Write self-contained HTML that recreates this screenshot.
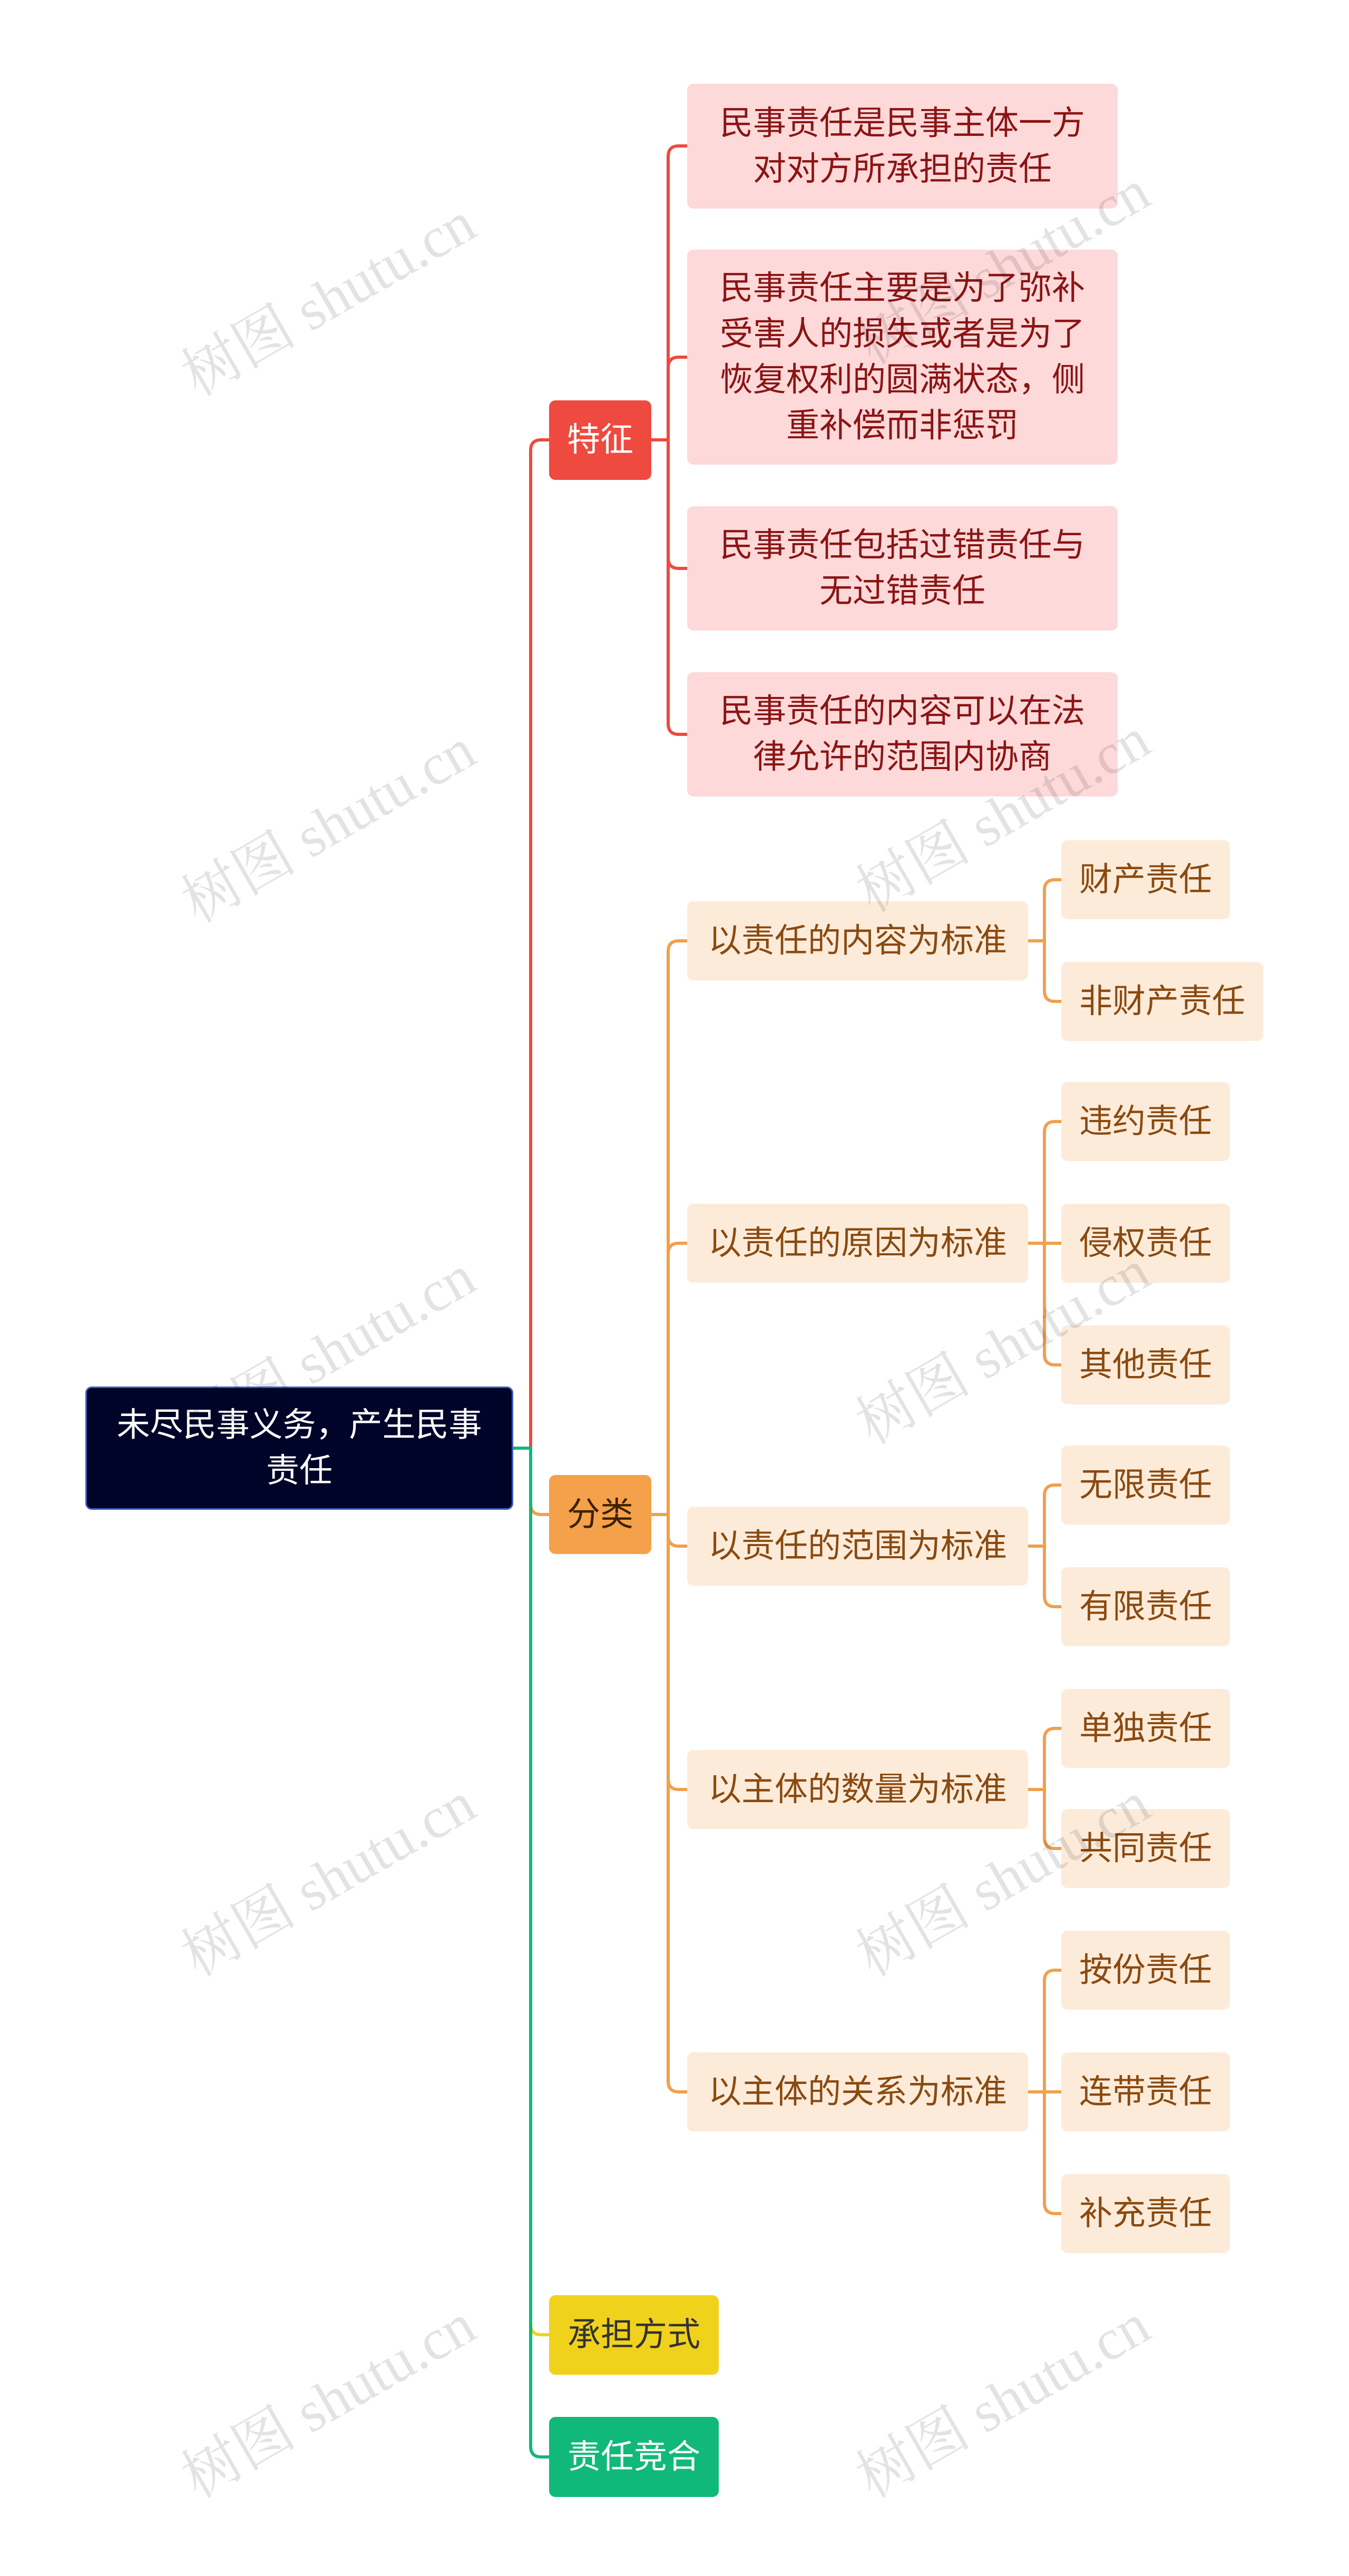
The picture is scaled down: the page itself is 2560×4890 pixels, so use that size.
<!DOCTYPE html>
<html><head><meta charset="utf-8"><style>
body{margin:0;width:2560px;height:4890px;background:#fff;position:relative;overflow:hidden;font-family:"Liberation Sans","Noto Sans CJK SC",sans-serif}
.n{position:absolute;box-sizing:border-box;display:flex;align-items:center;justify-content:center;text-align:center;font-size:63px;line-height:87px;border-radius:12px}
.f{background:#fdd9d9;color:#8b1414;left:1304px;width:817px}
.c{background:#fdebda;color:#8a4a10;left:1304px;width:647px;height:150px}
.l{background:#fdebda;color:#8a4a10;left:2014px;height:150px;padding:0 34px}
.w{position:absolute;font-family:"Liberation Serif","Noto Serif CJK SC",serif;font-size:110px;color:rgba(0,0,0,0.11);transform:rotate(-30deg);transform-origin:center;white-space:nowrap}
svg{position:absolute;left:0;top:0}
</style></head><body>
<svg width="2560" height="4890" fill="none" stroke-width="6">
<g stroke="#ee4a3f">
<path d="M974,2749 H1007 V855 Q1007,835 1027,835 H1042"/>
<path d="M1235,835 H1268"/>
<path d="M1268,835 V297 Q1268,277 1288,277 H1305"/>
<path d="M1268,835 V698 Q1268,678 1288,678 H1305"/>
<path d="M1268,835 V1059 Q1268,1079 1288,1079 H1305"/>
<path d="M1268,835 V1374 Q1268,1394 1288,1394 H1305"/>
</g>
<g stroke="#f0a04c">
<path d="M974,2749 H1007 V2855 Q1007,2875 1027,2875 H1042"/>
<path d="M1235,2875 H1268"/>
<path d="M1268,2875 V1806 Q1268,1786 1288,1786 H1305"/>
<path d="M1268,2875 V2380 Q1268,2360 1288,2360 H1305"/>
<path d="M1268,2875 V2915 Q1268,2935 1288,2935 H1305"/>
<path d="M1268,2875 V3377 Q1268,3397 1288,3397 H1305"/>
<path d="M1268,2875 V3951 Q1268,3971 1288,3971 H1305"/>
<path d="M1951,1786 H1982 M1982,1786 V1690 Q1982,1670 2002,1670 H2015 M1982,1786 V1881 Q1982,1901 2002,1901 H2015"/>
<path d="M1951,2360 H1982 M1982,2360 V2149 Q1982,2129 2002,2129 H2015 M1982,2360 H2015 M1982,2360 V2571 Q1982,2591 2002,2591 H2015"/>
<path d="M1951,2935 H1982 M1982,2935 V2839 Q1982,2819 2002,2819 H2015 M1982,2935 V3030 Q1982,3050 2002,3050 H2015"/>
<path d="M1951,3397 H1982 M1982,3397 V3301 Q1982,3281 2002,3281 H2015 M1982,3397 V3489 Q1982,3509 2002,3509 H2015"/>
<path d="M1951,3971 H1982 M1982,3971 V3760 Q1982,3740 2002,3740 H2015 M1982,3971 H2015 M1982,3971 V4182 Q1982,4202 2002,4202 H2015"/>
</g>
<path stroke="#f0d21c" d="M974,2749 H1007 V4412 Q1007,4432 1027,4432 H1042"/>
<path stroke="#10b97a" d="M974,2749 H1007 V4644 Q1007,4664 1027,4664 H1042"/>
</svg>

<div class="n" style="left:162px;top:2632px;width:812px;height:234px;background:#000428;border:3px solid #3a5cc0;color:#fff;padding:0 40px">未尽民事义务，产生民事<br>责任</div>

<div class="n" style="left:1042px;top:760px;width:194px;height:151px;background:#ee4a3f;color:#fff">特征</div>
<div class="n" style="left:1042px;top:2800px;width:194px;height:150px;background:#f5a04b;color:#3a2200">分类</div>
<div class="n" style="left:1042px;top:4357px;width:322px;height:151px;background:#f0d21c;color:#333">承担方式</div>
<div class="n" style="left:1042px;top:4588px;width:322px;height:152px;background:#10b97a;color:#fff">责任竞合</div>

<div class="n f" style="top:159px;height:237px">民事责任是民事主体一方<br>对对方所承担的责任</div>
<div class="n f" style="top:474px;height:408px">民事责任主要是为了弥补<br>受害人的损失或者是为了<br>恢复权利的圆满状态，侧<br>重补偿而非惩罚</div>
<div class="n f" style="top:961px;height:236px">民事责任包括过错责任与<br>无过错责任</div>
<div class="n f" style="top:1276px;height:236px">民事责任的内容可以在法<br>律允许的范围内协商</div>

<div class="n c" style="top:1711px">以责任的内容为标准</div>
<div class="n c" style="top:2285px">以责任的原因为标准</div>
<div class="n c" style="top:2860px">以责任的范围为标准</div>
<div class="n c" style="top:3322px">以主体的数量为标准</div>
<div class="n c" style="top:3896px">以主体的关系为标准</div>

<div class="n l" style="top:1595px">财产责任</div>
<div class="n l" style="top:1826px">非财产责任</div>
<div class="n l" style="top:2054px">违约责任</div>
<div class="n l" style="top:2285px">侵权责任</div>
<div class="n l" style="top:2516px">其他责任</div>
<div class="n l" style="top:2744px">无限责任</div>
<div class="n l" style="top:2975px">有限责任</div>
<div class="n l" style="top:3206px">单独责任</div>
<div class="n l" style="top:3434px">共同责任</div>
<div class="n l" style="top:3665px">按份责任</div>
<div class="n l" style="top:3896px">连带责任</div>
<div class="n l" style="top:4127px">补充责任</div>

<div class="w" style="left:310px;top:480px">树图 shutu.cn</div>
<div class="w" style="left:1590px;top:420px">树图 shutu.cn</div>
<div class="w" style="left:310px;top:1480px">树图 shutu.cn</div>
<div class="w" style="left:1590px;top:1460px">树图 shutu.cn</div>
<div class="w" style="left:310px;top:2480px">树图 shutu.cn</div>
<div class="w" style="left:1590px;top:2470px">树图 shutu.cn</div>
<div class="w" style="left:310px;top:3480px">树图 shutu.cn</div>
<div class="w" style="left:1590px;top:3480px">树图 shutu.cn</div>
<div class="w" style="left:310px;top:4470px">树图 shutu.cn</div>
<div class="w" style="left:1590px;top:4470px">树图 shutu.cn</div>
</body></html>
